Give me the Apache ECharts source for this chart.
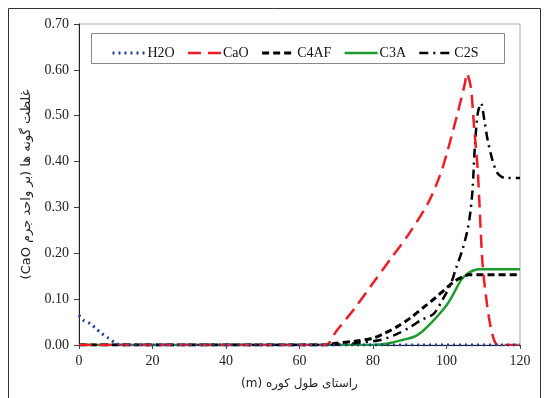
<!DOCTYPE html>
<html>
<head>
<meta charset="utf-8">
<script src="https://cdn.jsdelivr.net/npm/echarts@6/dist/echarts.min.js"></script>
<style>
  html, body { margin: 0; padding: 0; background: #fff; }
  #chart { width: 548px; height: 398px; }
</style>
</head>
<body>
<div id="chart"></div>
<script>
// position along the kiln (m) and species concentration (per unit mass CaO)
var h2oX = [0, 1.2, 3, 4.6, 6.2, 8, 9.8, 11.5, 120];
var h2oY = [0.065, 0.054, 0.047, 0.036, 0.025, 0.015, 0.005, 0, 0];

var caoX = [0, 67, 70, 75, 80, 85, 90, 95, 98, 100, 103, 105, 105.5, 106.6, 107.5, 108.5, 109.8, 111, 112, 113, 114, 120];
var caoY = [0, 0, 0.03, 0.08, 0.135, 0.19, 0.245, 0.31, 0.365, 0.415, 0.505, 0.57, 0.592, 0.563, 0.476, 0.381, 0.178, 0.09, 0.04, 0.01, 0, 0];

var c4afX = [0, 67, 70, 75, 80, 83, 86.6, 90, 93.9, 97, 99.4, 102, 104.8, 106, 120];
var c4afY = [0, 0, 0.004, 0.008, 0.015, 0.025, 0.04, 0.058, 0.083, 0.103, 0.12, 0.138, 0.15, 0.153, 0.153];

var c3aX = [0, 80, 82, 85, 88, 91.2, 93.5, 95.7, 98, 100.3, 102, 104, 106, 107.5, 109, 120];
var c3aY = [0, 0, 0.001, 0.005, 0.011, 0.018, 0.03, 0.047, 0.067, 0.09, 0.113, 0.142, 0.157, 0.163, 0.165, 0.165];

var c2sX = [0, 67, 75, 82, 86, 90.3, 93, 96.5, 99, 101.2, 102.5, 104.3, 105.7, 106.5, 107.1, 107.7, 108.5, 109.4, 110.3, 111.2, 112.5, 113.5, 114.4, 116, 120];
var c2sY = [0, 0, 0.004, 0.011, 0.022, 0.04, 0.054, 0.068, 0.1, 0.134, 0.165, 0.207, 0.25, 0.29, 0.34, 0.43, 0.505, 0.527, 0.49, 0.447, 0.403, 0.38, 0.37, 0.364, 0.364];

var seriesNames = ['H2O', 'CaO', 'C4AF', 'C3A', 'C2S'];

function pairs(xs, ys) {
    return xs.map(function (x, i) { return [x, ys[i]]; });
}

var serif = "'Liberation Serif', 'Times New Roman', serif";
var arabic = "'DejaVu Sans', sans-serif";
// force right-to-left paragraph order for the Persian axis titles
function rtl(s) { return '\u202B' + s + '\u202C'; }

var chart = echarts.init(document.getElementById('chart'));

function line(name, xs, ys, color, width, type) {
    return {
        name: name,
        type: 'line',
        data: pairs(xs, ys),
        symbol: 'none',
        smooth: 0.3,
        lineStyle: { color: color, width: width, type: type, cap: 'butt' },
        itemStyle: { color: color },
        z: 3
    };
}

var option = {
    animation: false,
    backgroundColor: '#fff',
    textStyle: { fontFamily: serif },
    grid: { left: 79, right: 28, top: 24, bottom: 53, show: true, borderColor: '#aaa', borderWidth: 1 },
    graphic: [
        { type: 'rect', shape: { x: 8.5, y: 8.5, width: 532, height: 400 }, style: { fill: null, stroke: '#333', lineWidth: 1 }, z: -1 },
        { type: 'rect', shape: { x: 91.5, y: 33.5, width: 413, height: 30 }, style: { fill: '#fff', stroke: '#888', lineWidth: 1 }, z: 10 }
    ],
    legend: {
        left: 106,
        top: 41,
        itemWidth: 33,
        itemHeight: 12,
        itemGap: 12,
        z: 11,
        itemStyle: { opacity: 0 },
        lineStyle: { type: 'inherit', width: 'inherit', color: 'inherit' },
        textStyle: { fontFamily: serif, fontSize: 14, color: '#111', padding: [0, 0, 0, -3] },
        data: seriesNames
    },
    xAxis: {
        type: 'value',
        min: 0, max: 120, interval: 20,
        name: rtl('راستای طول کوره (m)'),
        nameLocation: 'middle',
        nameGap: 33,
        nameTextStyle: { fontFamily: arabic, fontSize: 12, color: '#222' },
        axisLine: { lineStyle: { color: '#222', width: 1 } },
        axisTick: { show: true, length: 4, lineStyle: { color: '#444' } },
        splitLine: { show: false },
        axisLabel: { fontFamily: serif, fontSize: 14, color: '#222', margin: 9 }
    },
    yAxis: {
        type: 'value',
        min: 0, max: 0.7, interval: 0.1,
        name: rtl('غلظت گونه ها (بر واحد جرم CaO)'),
        nameLocation: 'middle',
        nameGap: 45,
        nameTextStyle: { fontFamily: arabic, fontSize: 13, color: '#222' },
        axisLine: { show: true, lineStyle: { color: '#222', width: 1 } },
        axisTick: { show: true, length: 5, lineStyle: { color: '#444' } },
        splitLine: { show: false },
        axisLabel: {
            fontFamily: serif, fontSize: 14, color: '#222', margin: 10,
            formatter: function (v) { return v.toFixed(2); }
        }
    },
    series: [
        line('C3A', c3aX, c3aY, '#1f9a2e', 2.5, 'solid'),
        line('C4AF', c4afX, c4afY, '#000', 3, [7, 4]),
        line('C2S', c2sX, c2sY, '#000', 2.5, [9, 5, 2, 5]),
        line('CaO', caoX, caoY, '#ee1c25', 2.5, [13, 7]),
        line('H2O', h2oX, h2oY, '#1f3f9a', 3, [2, 4])
    ]
};

chart.setOption(option);
</script>
</body>
</html>
